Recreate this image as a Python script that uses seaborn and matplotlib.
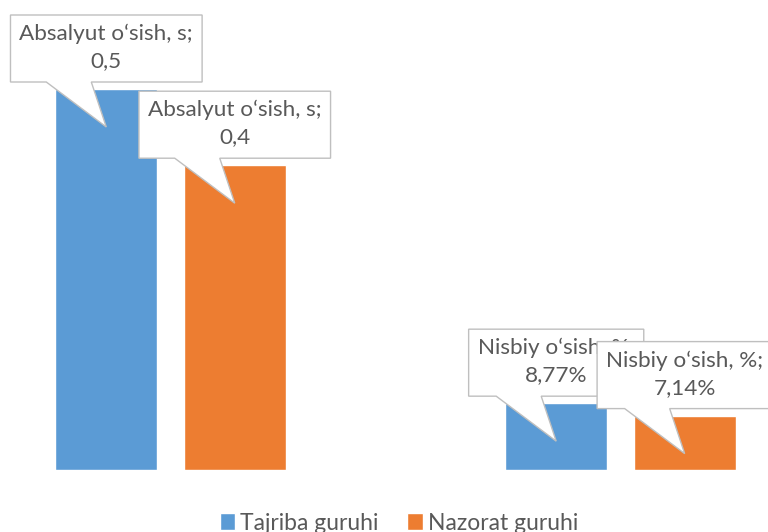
import matplotlib
matplotlib.use("Agg")
import matplotlib.pyplot as plt
import seaborn as sns
import pandas as pd
from matplotlib.patches import Polygon

categories = ["Absalyut o\u2018sish, s", "Nisbiy o\u2018sish, %"]
groups = ["Tajriba guruhi", "Nazorat guruhi"]
tajriba = [0.5, 0.0877]
nazorat = [0.4, 0.0714]
label_fmt = ["{:.1f}", "{:.2%}"]

BLUE = "#5B9BD5"
ORANGE = "#ED7D31"
TXT = "#595959"
EDGE = "#BFBFBF"

sns.set_style("white")
plt.rcParams["font.family"] = ["Lato", "DejaVu Sans"]

df = pd.DataFrame({
    "category": categories * 2,
    "group": [g for g in groups for _ in categories],
    "value": tajriba + nazorat,
})

fig = plt.figure(figsize=(7.68, 5.32), dpi=100)
ax = fig.add_axes([0, 62 / 532, 1, 470 / 532])
sns.barplot(data=df, x="category", y="value", hue="group", palette=[BLUE, ORANGE],
            width=0.571, gap=0.207, saturation=1, ax=ax)
ax.set_xlim(-0.379, 1.328)
ax.set_ylim(0, 0.6168)
ax.axis("off")

leg = ax.legend(loc="center", bbox_to_anchor=(399 / 768, 1 - 523 / 532), bbox_transform=fig.transFigure,
                ncol=2, frameon=False, handlelength=0.68, handleheight=0.7, handletextpad=0.22,
                columnspacing=1.25, fontsize=16.5, borderpad=0)
for t in leg.get_texts():
    t.set_color(TXT)

fig.canvas.draw()
renderer = fig.canvas.get_renderer()
inv = ax.transData.inverted()

vals = [tajriba, nazorat]
for gi, cont in enumerate(ax.containers):
    for ci, bar in enumerate(cont.patches):
        cx = bar.get_x() + bar.get_width() / 2
        top = bar.get_height()
        px, py = ax.transData.transform((cx, top))
        tipx, tipy = px, py - 38
        bb = tipy + 45
        bt = bb + 67
        v = vals[gi][ci]
        s = label_fmt[ci].format(v).replace(".", ",")
        txt = f"{categories[ci]};\n{s}"
        tx, ty = inv.transform((px, (bb + bt) / 2 + 1))
        t = ax.text(tx, ty, txt, ha="center", va="center", fontsize=16.2, color=TXT,
                    linespacing=1.45, zorder=4 + gi * 2 + 0.5)
        ext = t.get_window_extent(renderer)
        half = ext.width / 2 + 9
        pts = [(px - half, bb), (px - 60, bb), (tipx, tipy), (px - 15, bb),
               (px + half, bb), (px + half, bt), (px - half, bt)]
        pts = [inv.transform(p) for p in pts]
        ax.add_patch(Polygon(pts, closed=True, facecolor="white", edgecolor=EDGE,
                             linewidth=1.0, zorder=4 + gi * 2, clip_on=False))

fig.savefig("out.png", dpi=100)
